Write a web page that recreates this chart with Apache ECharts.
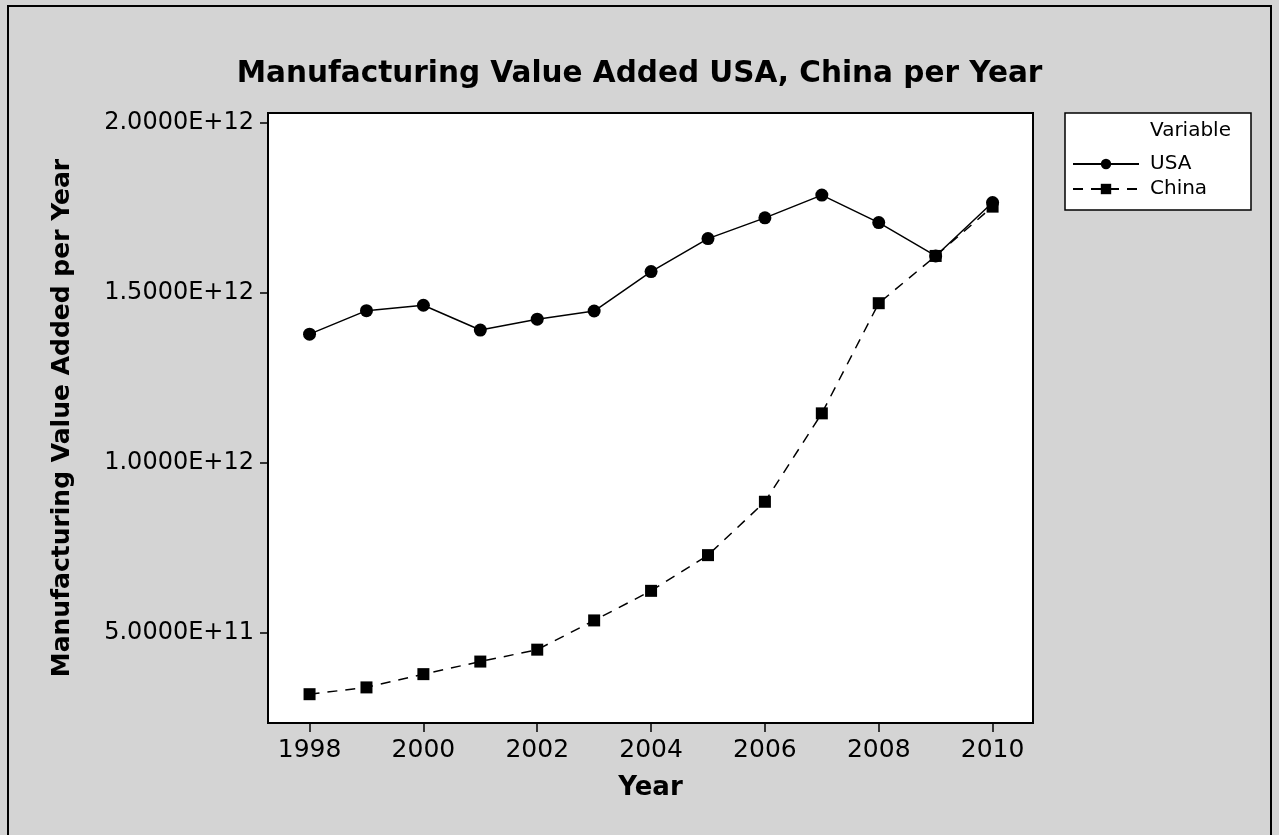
<!DOCTYPE html>
<html>
<head>
<meta charset="utf-8">
<script src="https://cdn.jsdelivr.net/npm/echarts@6/dist/echarts.min.js"></script>
<style>
html,body{margin:0;padding:0;background:#d4d4d4;}
#chart{width:1279px;height:835px;}
</style>
</head>
<body>
<div id="chart"></div>
<script>
const years = [1998,1999,2000,2001,2002,2003,2004,2005,2006,2007,2008,2009,2010];
const usaValues = [1.379e12,1.448e12,1.464e12,1.391e12,1.423e12,1.447e12,1.563e12,1.660e12,1.721e12,1.788e12,1.707e12,1.609e12,1.766e12];
const chinaValues = [3.20e11,3.40e11,3.79e11,4.16e11,4.51e11,5.37e11,6.24e11,7.29e11,8.86e11,1.146e12,1.470e12,1.609e12,1.754e12];
const xTicks = [1998,2000,2002,2004,2006,2008,2010];
const yTicks = [5e11,1e12,1.5e12,2e12];
const seriesNames = ['USA','China'];
const titleText = 'Manufacturing Value Added USA, China per Year';
const xAxisName = 'Year';
const yAxisName = 'Manufacturing Value Added per Year';
const legendTitle = 'Variable';

const FONT = "'DejaVu Sans', Tahoma, sans-serif";
const chart = echarts.init(document.getElementById('chart'), null, {renderer:'canvas'});

function fmtY(v){ return v.toExponential(4).toUpperCase(); }

chart.setOption({
  backgroundColor: '#d4d4d4',
  animation: false,
  textStyle: {fontFamily: FONT, color: '#000'},
  title: {
    text: titleText, left: 'center', top: 54,
    textStyle: {fontFamily: FONT, fontWeight: 'bold', fontSize: 29.5, color: '#000'}
  },
  graphic: [
    {type:'rect', z:-1, shape:{x:8, y:6, width:1263, height:840}, style:{fill:'none', stroke:'#000', lineWidth:2}},
    {type:'rect', z:0, shape:{x:1065, y:113, width:186, height:97}, style:{fill:'#fff', stroke:'#000', lineWidth:1.5}},
    {type:'text', z:1, left:1150, top:121, style:{text:legendTitle, font:"20px 'DejaVu Sans'", fill:'#000'}}
  ],
  legend: {
    data: seriesNames, orient: 'vertical', left: 1072, top: 154, itemGap: 5, padding: 0,
    itemWidth: 66, itemHeight: 13,
    textStyle: {fontFamily: FONT, fontSize: 20, color: '#000', padding:[0,0,0,6]}
  },
  grid: {
    left: 268, right: 246, top: 113, bottom: 112,
    show: true, backgroundColor: '#fff', borderColor: '#000', borderWidth: 2
  },
  xAxis: {
    type: 'value', min: 1997.27, max: 2010.71,
    name: xAxisName, nameLocation: 'middle', nameGap: 52,
    nameTextStyle: {fontFamily: FONT, fontWeight: 'bold', fontSize: 26, color: '#000'},
    axisLine: {show: true, lineStyle: {color: '#000', width: 2}},
    axisTick: {show: true, inside: false, length: 9, lineStyle: {color: '#000', width: 1.5}, customValues: xTicks},
    axisLabel: {fontFamily: FONT, fontSize: 25, color: '#000', margin: 15, customValues: xTicks, formatter: v => String(v)},
    splitLine: {show: false}
  },
  yAxis: {
    type: 'value', min: 2.353e11, max: 2.0294e12,
    name: yAxisName, nameLocation: 'middle', nameGap: 193, nameRotate: 90,
    nameTextStyle: {fontFamily: FONT, fontWeight: 'bold', fontSize: 25, color: '#000'},
    axisLine: {show: true, lineStyle: {color: '#000', width: 2}},
    axisTick: {show: true, inside: false, length: 8, lineStyle: {color: '#000', width: 1.5}, customValues: yTicks},
    axisLabel: {fontFamily: FONT, fontSize: 24, color: '#000', margin: 14, customValues: yTicks, formatter: fmtY},
    splitLine: {show: false}
  },
  series: [
    {
      name: seriesNames[0], type: 'line',
      data: years.map((y,i)=>[y, usaValues[i]]),
      symbol: 'circle', symbolSize: 13,
      itemStyle: {color: '#000'},
      lineStyle: {color: '#000', width: 1.5, type: 'solid'}
    },
    {
      name: seriesNames[1], type: 'line',
      data: years.map((y,i)=>[y, chinaValues[i]]),
      symbol: 'rect', symbolSize: 12,
      itemStyle: {color: '#000'},
      lineStyle: {color: '#000', width: 1.5, type: [10,8]}
    }
  ]
});
</script>
</body>
</html>
